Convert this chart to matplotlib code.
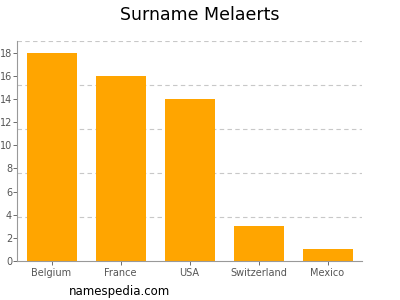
import matplotlib
matplotlib.use("Agg")
import matplotlib.pyplot as plt

categories = ["Belgium", "France", "USA", "Switzerland", "Mexico"]
values = [18, 16, 14, 3, 1]
yticks = [0, 2, 4, 6, 8, 10, 12, 14, 16, 18]
grid_levels = [3.8, 7.6, 11.4, 15.2, 19.0]

fig = plt.figure(figsize=(4, 3), dpi=100)
ax = fig.add_axes([17/400, 1 - 261/300, 345/400, 220/300])

x = list(range(len(categories)))
ax.bar(x, values, width=50/69, color="#FFA500", zorder=2)
ax.set_xlim(-0.5, len(categories) - 0.5)
ax.set_ylim(0, 19)

for g in grid_levels:
    ax.axhline(g, color="#c8c8c8", linestyle=(0, (4, 3)), linewidth=0.8, zorder=1)

ax.set_yticks(yticks)
ax.set_yticklabels([str(t) for t in yticks])
ax.set_xticks(x)
ax.set_xticklabels(categories)
ax.tick_params(axis="both", labelsize=7, colors="#555555", length=3, width=0.6)
ax.tick_params(axis="y", pad=0.5)
ax.tick_params(axis="x", pad=2)
for s in ["top", "right"]:
    ax.spines[s].set_visible(False)
for s in ["left", "bottom"]:
    ax.spines[s].set_color("#999999")
    ax.spines[s].set_linewidth(0.8)

fig.text(0.5, 1 - 15/300, "Surname Melaerts", ha="center", va="center", fontsize=12.5)
fig.text(120/400, 1 - 291/300, "namespedia.com", ha="center", va="center", fontsize=8.5)

fig.savefig("out.png", dpi=100)
